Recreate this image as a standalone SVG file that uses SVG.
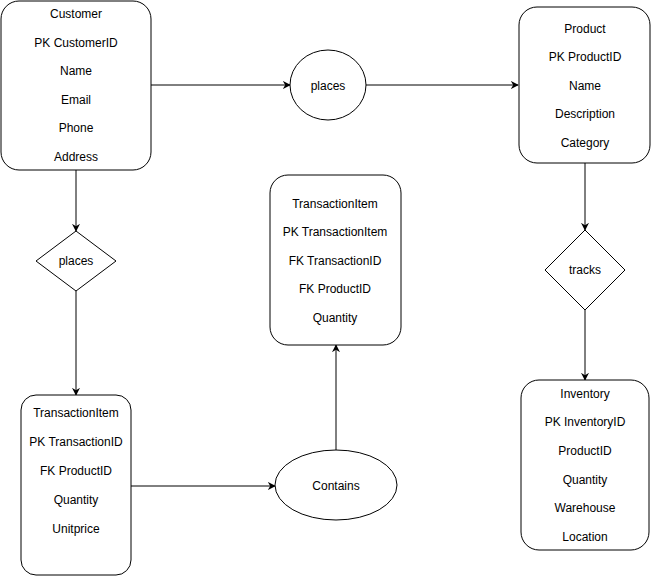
<svg xmlns="http://www.w3.org/2000/svg" width="652" height="576" viewBox="0 0 652 576">
<style>
.box{fill:#fff;stroke:#000;stroke-width:1}
.t{font-family:"Liberation Sans",Arial,sans-serif;font-size:12px;fill:#000;text-anchor:middle;dominant-baseline:central}
.c{fill:none;stroke:#000;stroke-width:1}
</style>
<defs>
<marker id="arr" viewBox="0 0 10 10" refX="9" refY="5" markerWidth="8" markerHeight="8" markerUnits="userSpaceOnUse" orient="auto">
<path d="M0,0 L10,5 L0,10 L3,5 Z" fill="#000"/>
</marker>
</defs>
<rect width="652" height="576" fill="#fff"/>
<g id="connectors">
<path class="c" d="M151,85 H290" marker-end="url(#arr)"/>
<path class="c" d="M366,85 H518" marker-end="url(#arr)"/>
<path class="c" d="M76,170 V231" marker-end="url(#arr)"/>
<path class="c" d="M76,291 V395" marker-end="url(#arr)"/>
<path class="c" d="M131,486 H275" marker-end="url(#arr)"/>
<path class="c" d="M336,450 V345" marker-end="url(#arr)"/>
<path class="c" d="M585,163 V230" marker-end="url(#arr)"/>
<path class="c" d="M585,310 V380" marker-end="url(#arr)"/>
</g>
<g id="customer">
<rect class="box" x="1" y="1" width="150" height="169" rx="18"/>
<text class="t" x="76" y="14">Customer</text>
<text class="t" x="76" y="43">PK CustomerID</text>
<text class="t" x="76" y="71">Name</text>
<text class="t" x="76" y="100">Email</text>
<text class="t" x="76" y="128">Phone</text>
<text class="t" x="76" y="157">Address</text>
</g>
<g id="places1">
<ellipse class="box" cx="328" cy="85" rx="38" ry="35"/>
<text class="t" x="328" y="86">places</text>
</g>
<g id="product">
<rect class="box" x="519" y="7" width="131" height="156" rx="18"/>
<text class="t" x="585" y="29">Product</text>
<text class="t" x="585" y="57">PK ProductID</text>
<text class="t" x="585" y="86">Name</text>
<text class="t" x="585" y="114">Description</text>
<text class="t" x="585" y="143">Category</text>
</g>
<g id="places2">
<path class="box" d="M76,231 L116,261 L76,291 L36,261 Z"/>
<text class="t" x="76" y="261">places</text>
</g>
<g id="transactionitem2">
<rect class="box" x="270" y="175" width="131" height="170" rx="18"/>
<text class="t" x="335" y="204">TransactionItem</text>
<text class="t" x="335" y="232">PK TransactionItem</text>
<text class="t" x="335" y="261">FK TransactionID</text>
<text class="t" x="335" y="289">FK ProductID</text>
<text class="t" x="335" y="318">Quantity</text>
</g>
<g id="tracks">
<path class="box" d="M585,230 L625,270 L585,310 L545,270 Z"/>
<text class="t" x="585" y="270">tracks</text>
</g>
<g id="transactionitem1">
<rect class="box" x="21" y="395" width="110" height="180" rx="15"/>
<text class="t" x="76" y="413">TransactionItem</text>
<text class="t" x="76" y="442">PK TransactionID</text>
<text class="t" x="76" y="471">FK ProductID</text>
<text class="t" x="76" y="500">Quantity</text>
<text class="t" x="76" y="529">Unitprice</text>
</g>
<g id="contains">
<ellipse class="box" cx="336" cy="485" rx="61" ry="35"/>
<text class="t" x="336" y="486">Contains</text>
</g>
<g id="inventory">
<rect class="box" x="521" y="380" width="128" height="170" rx="18"/>
<text class="t" x="585" y="394">Inventory</text>
<text class="t" x="585" y="422">PK InventoryID</text>
<text class="t" x="585" y="451">ProductID</text>
<text class="t" x="585" y="480">Quantity</text>
<text class="t" x="585" y="508">Warehouse</text>
<text class="t" x="585" y="537">Location</text>
</g>
</svg>
